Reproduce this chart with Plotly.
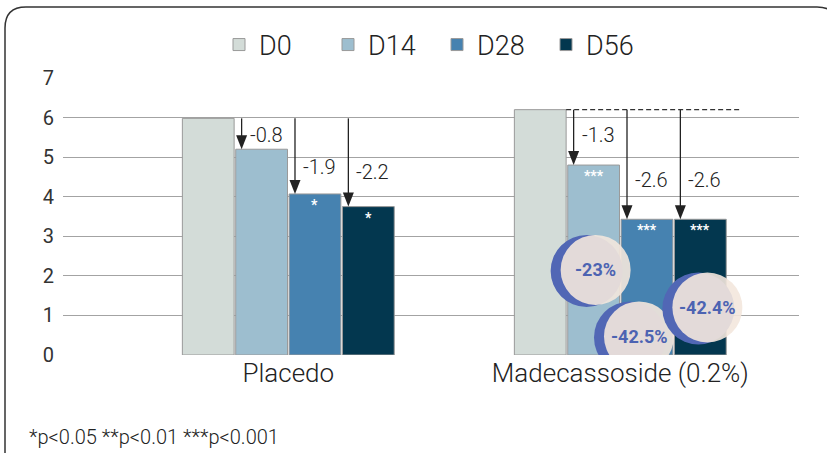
import plotly.graph_objects as go

# ---- data -------------------------------------------------------------
groups = ["Placedo", "Madecassoside (0.2%)"]
timepoints = ["D0", "D14", "D28", "D56"]
placebo = [5.98, 5.2, 4.07, 3.75]
madecassoside = [6.2, 4.8, 3.43, 3.43]
placebo_change = ["-0.8", "-1.9", "-2.2"]
madecassoside_change = ["-1.3", "-2.6", "-2.6"]
placebo_sig = ["", "", "*", "*"]
madecassoside_sig = ["", "***", "***", "***"]
madecassoside_pct = ["-23%", "-42.5%", "-42.4%"]
y_ticks = [0, 1, 2, 3, 4, 5, 6, 7]

# ---- styling / layout constants ----------------------------------------
colors = ["#D3DCD8", "#9DBECF", "#4682B0", "#03374F"]
W, H = 827, 453
M_L, M_R, M_T, M_B = 63, 28, 78, 98
X_RANGE = [-0.6786, 1.5382]
Y_RANGE = [0, 7]
BARGAP, BARGROUPGAP = 0.357, 0.03
FONT = "Roboto, Arial, sans-serif"
INK = "#222222"
LIGHT = 300

plot_w = W - M_L - M_R
plot_h = H - M_T - M_B
px_per_x = plot_w / (X_RANGE[1] - X_RANGE[0])
slot = (1 - BARGAP) / len(timepoints)
bar_w = slot * (1 - BARGROUPGAP)


def bar_center(group, k):
    return group + (k - (len(timepoints) - 1) / 2) * slot


def paper(px, py):
    return (px - M_L) / plot_w, (H - M_B - py) / plot_h


fig = go.Figure()
for k, tp in enumerate(timepoints):
    fig.add_trace(go.Bar(
        x=[0, 1], y=[placebo[k], madecassoside[k]],
        name=f"<span style='font-weight:{LIGHT}'>{tp}</span>",
        marker=dict(color=colors[k], line=dict(color="#9A9A9A", width=1)),
    ))

shapes, annotations = [], []

# change arrows: from the D0 level down to each later timepoint
change_label_y = [[5.56, 4.76, 4.63], [5.56, 4.42, 4.42]]
arrow_dx = -20
for g, (vals, changes) in enumerate([(placebo, placebo_change),
                                     (madecassoside, madecassoside_change)]):
    base = vals[0]
    for j, txt in enumerate(changes):
        k = j + 1
        xc = bar_center(g, k)
        shapes.append(dict(type="line", xref="x", yref="y", xsizemode="pixel",
                           xanchor=xc, x0=arrow_dx, x1=arrow_dx,
                           y0=base, y1=vals[k] + 0.2,
                           line=dict(color=INK, width=1.3), layer="above"))
        shapes.append(dict(type="path", xref="x", yref="y",
                           xsizemode="pixel", ysizemode="pixel",
                           xanchor=xc, yanchor=vals[k],
                           path=f"M{arrow_dx-5.5},14 L{arrow_dx+5.5},14 L{arrow_dx},0 Z",
                           fillcolor=INK, line=dict(width=0), layer="above"))
        annotations.append(dict(x=xc, y=change_label_y[g][j], xref="x", yref="y",
                                text=txt, showarrow=False, xanchor="left",
                                xshift=arrow_dx + 6,
                                font=dict(family=FONT, size=20, color=INK, weight=LIGHT)))

# dashed reference level for the active group
x_start = bar_center(1, 0) + bar_w / 2
x_end = bar_center(1, 3) + bar_w / 2 + 13 / px_per_x
shapes.append(dict(type="line", xref="x", yref="y", x0=x_start, x1=x_end,
                   y0=madecassoside[0], y1=madecassoside[0],
                   line=dict(color="#333333", width=1.2, dash="5px,3px"),
                   layer="above"))

# significance stars inside the bars
for g, (vals, sig) in enumerate([(placebo, placebo_sig),
                                 (madecassoside, madecassoside_sig)]):
    for k, s in enumerate(sig):
        if s:
            annotations.append(dict(x=bar_center(g, k), y=vals[k], xref="x", yref="y",
                                    text=f"<b>{s}</b>", showarrow=False,
                                    yanchor="top", yshift=-1,
                                    font=dict(family=FONT, size=14, color="white")))

# percentage badges
badge_pos = [(1, 1, 2, 2.15), (1, 2, -8, 0.47), (1, 3, 7, 1.2)]
for (g, k, dx, yv), txt in zip(badge_pos, madecassoside_pct):
    xc = bar_center(g, k)
    r, rb, off = 35, 36, -9
    shapes.append(dict(type="circle", xref="x", yref="y",
                       xsizemode="pixel", ysizemode="pixel",
                       xanchor=xc, yanchor=yv,
                       x0=dx + off - rb, x1=dx + off + rb, y0=-1 - rb, y1=-1 + rb,
                       fillcolor="#5167B5", line=dict(width=0), layer="above"))
    shapes.append(dict(type="circle", xref="x", yref="y",
                       xsizemode="pixel", ysizemode="pixel",
                       xanchor=xc, yanchor=yv,
                       x0=dx - r, x1=dx + r, y0=-r, y1=r,
                       fillcolor="rgba(243,231,221,0.9)", line=dict(width=0),
                       layer="above"))
    annotations.append(dict(x=xc, y=yv, xref="x", yref="y", xshift=dx,
                            text=f"<b>{txt}</b>", showarrow=False,
                            font=dict(family=FONT, size=18, color="#4C63B2")))

# rounded frame around the whole graphic
rad = 21
left, top, right, bottom = 5, 7, 838, 463
pts = {
    "a": paper(left, bottom), "b": paper(left, top + rad), "c": paper(left, top),
    "d": paper(left + rad, top), "e": paper(right - rad, top), "f": paper(right, top),
    "g": paper(right, top + rad), "h": paper(right, bottom),
}
frame = (f"M{pts['a'][0]},{pts['a'][1]} L{pts['b'][0]},{pts['b'][1]} "
         f"Q{pts['c'][0]},{pts['c'][1]} {pts['d'][0]},{pts['d'][1]} "
         f"L{pts['e'][0]},{pts['e'][1]} "
         f"Q{pts['f'][0]},{pts['f'][1]} {pts['g'][0]},{pts['g'][1]} "
         f"L{pts['h'][0]},{pts['h'][1]}")
shapes.append(dict(type="path", xref="paper", yref="paper", path=frame,
                   line=dict(color="#333333", width=1.5), layer="above"))

# footnote
fx, fy = paper(27, 437)
annotations.append(dict(x=fx, y=fy, xref="paper", yref="paper",
                        xanchor="left", yanchor="middle",
                        text="*p<0.05 **p<0.01 ***p<0.001", showarrow=False,
                        font=dict(family=FONT, size=20, color=INK, weight=LIGHT)))

lx, ly = paper(437, 45)
fig.update_layout(
    width=W, height=H,
    margin=dict(l=M_L, r=M_R, t=M_T, b=M_B, pad=0),
    paper_bgcolor="white", plot_bgcolor="white",
    barmode="group", bargap=BARGAP, bargroupgap=BARGROUPGAP,
    font=dict(family=FONT, color=INK),
    showlegend=True,
    legend=dict(orientation="h", x=lx, xanchor="center", y=ly, yanchor="middle",
                font=dict(family=FONT, size=27, color=INK, weight=LIGHT),
                entrywidth=64, bgcolor="rgba(0,0,0,0)"),
    xaxis=dict(range=X_RANGE, tickmode="array", tickvals=[0, 1], ticktext=groups,
               showgrid=False, zeroline=False, showline=False, ticks="",
               tickfont=dict(family=FONT, size=26, color=INK, weight=LIGHT),
               fixedrange=True),
    yaxis=dict(range=Y_RANGE, tickmode="array", tickvals=y_ticks,
               showgrid=True, gridcolor="#A3A3A3", gridwidth=1,
               zeroline=False, showline=False, ticks="", ticklabelstandoff=8,
               tickfont=dict(family=FONT, size=20, color="#333333"), fixedrange=True),
    shapes=shapes, annotations=annotations,
)

fig.write_html("out.html")
